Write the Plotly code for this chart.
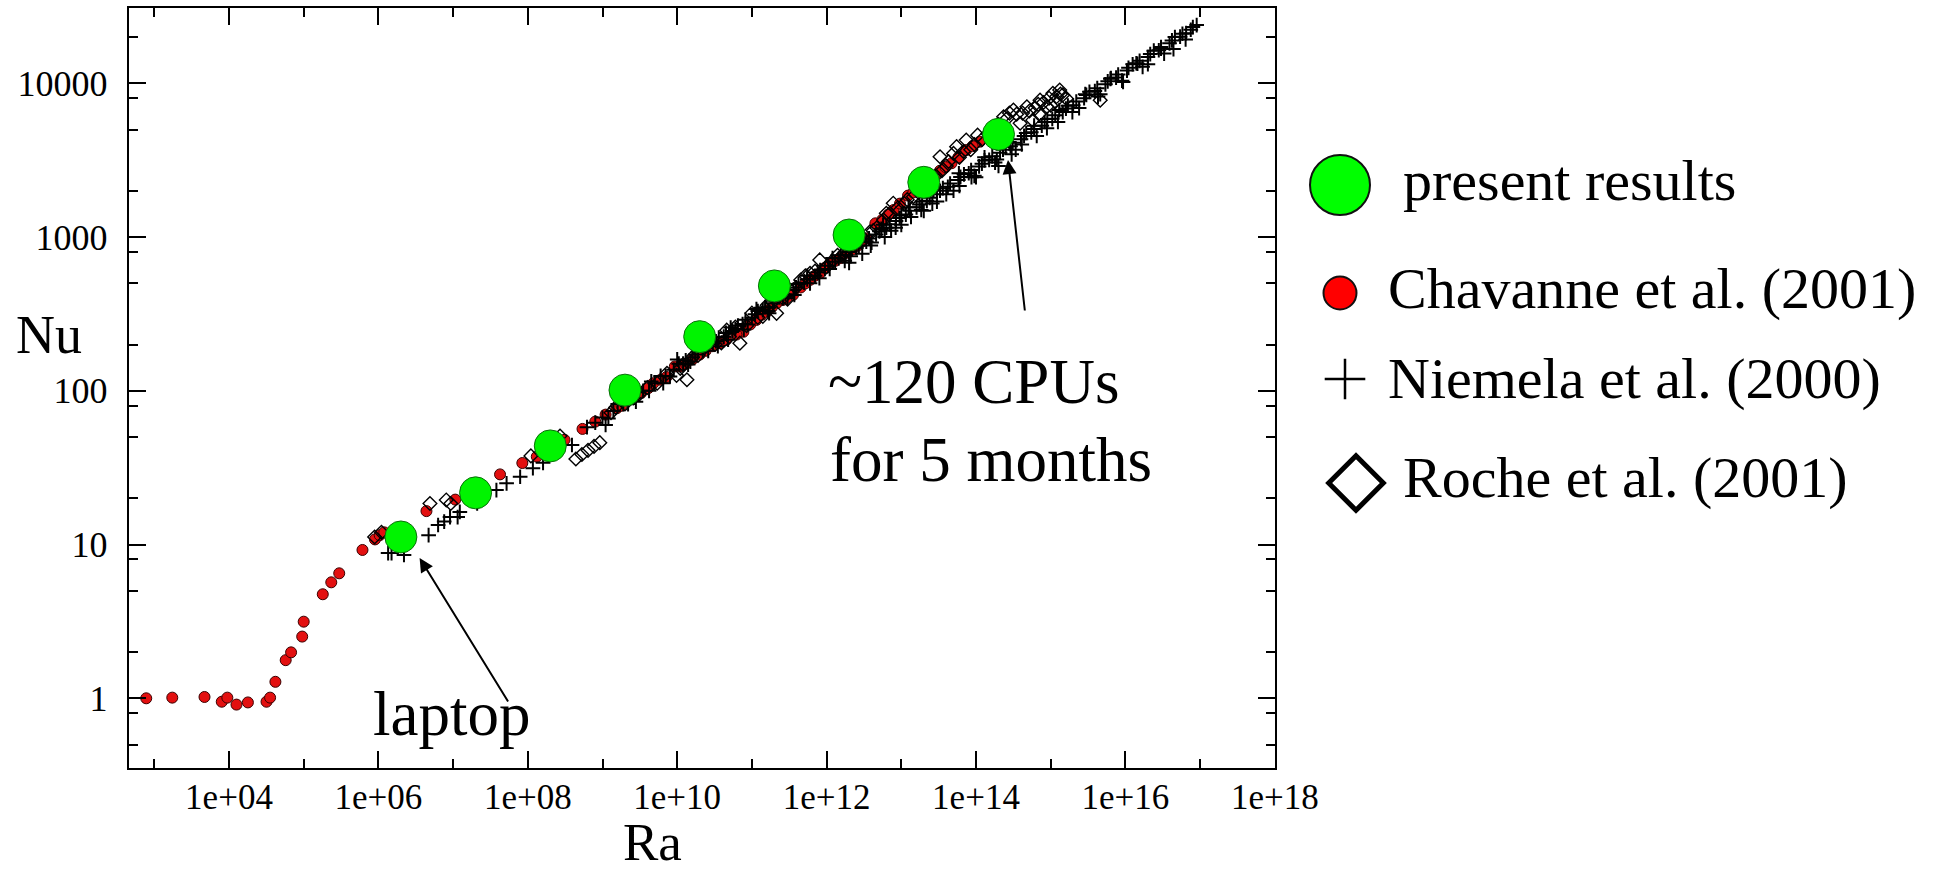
import plotly.graph_objects as go

W, H = 1945, 872
# plot-area edges in pixels (layout only)
PL, PR, PT, PB = 128.6, 1274.8, 8.3, 768.3

# ---------------- data ----------------
present_ra = [2e6, 2e7, 2e8, 2e9, 2e10, 2e11, 2e12, 2e13, 2e14]
present_nu = [11.2, 21.7, 43.8, 101, 225, 481, 1031, 2270, 4660]

chavanne_ra = [7.8e2, 1.74e3, 4.7e3, 8.0e3, 9.5e3, 1.26e4, 1.79e4, 3.18e4, 3.55e4, 4.18e4,
               5.74e4, 6.78e4, 9.55e4, 1.0e5, 1.80e5, 2.34e5, 2.99e5, 6.12e5, 0.9e6, 1.04e6,
               1.2e6, 4.4e6, 1.07e7, 4.25e7, 8.45e7, 1.32e8, 2.2e8, 3.1e8, 5.4e8, 8.0e8,
               1.1e9, 1.55e9, 2.5e9, 3.3e9, 4.8e9, 7.2e9, 9.3e9, 1.1e10, 1.6e10, 2.4e10,
               3.7e10, 7.7e10, 1.15e11, 1.6e11, 2.14e11, 2.6e11, 3.55e11, 6.0e11, 8.1e11, 1.12e12,
               1.5e12, 1.9e12, 2.6e12, 3.4e12, 4.5e12, 7.9e12, 1.23e13, 1.7e13, 2.3e13, 3.3e13,
               4.7e13, 7.4e13, 1.12e14,
               1.8e9, 2.9e9, 4.1e9, 6.0e9, 1.3e10, 2.0e10, 3.0e10, 4.5e10, 6.2e10, 9.5e10,
               1.35e11, 1.85e11, 2.9e11, 4.5e11, 5.2e11, 7.0e11, 9.5e11, 1.3e12, 2.2e12, 3.0e12,
               5.6e12, 6.7e12, 9.6e12, 1.45e13, 2.0e13, 2.8e13, 3.9e13, 5.8e13, 9.0e13]
chavanne_nu = [1.00, 1.01, 1.02, 0.95, 1.01, 0.91, 0.94, 0.95, 1.01, 1.28,
               1.77, 1.99, 2.52, 3.15, 4.75, 5.68, 6.5, 9.22, 10.8, 11.5,
               12.0, 16.5, 19.6, 28.6, 33.9, 37.3, 44, 48, 56.5, 63,
               70, 77, 90, 97, 112, 123, 144, 144, 160, 182,
               204, 242, 289, 330, 371, 390, 420, 526, 581, 675,
               728, 790, 880, 980, 1228, 1500, 1860, 2080, 2350, 2700,
               3020, 3680, 4170,
               80, 95, 104, 118, 150, 172, 195, 214, 232, 270,
               312, 350, 400, 470, 500, 560, 630, 700, 830, 940,
               1300, 1400, 1650, 1950, 2200, 2500, 2850, 3300, 3900]

niemela_ra = [1.35e6, 1.5e6, 2.2e6, 4.7e6, 6.3e6, 7.6e6, 9.1e6, 1.15e7, 1.23e7, 2.1e7,
              3.8e7, 5.2e7, 7.9e7, 1.17e8, 1.6e8, 2.4e8, 3.9e8, 6.2e8, 8.0e8, 1.0e9,
              1.2e9, 1.4e9, 1.6e9, 1.9e9, 2.2e9, 2.5e9, 3.0e9, 3.5e9, 4.2e9, 5.0e9,
              6.0e9, 7.0e9, 8.0e9, 9.0e9, 1.05e10, 1.2e10, 1.4e10, 1.6e10, 1.9e10, 2.2e10,
              2.6e10, 3.0e10, 3.6e10, 4.2e10, 4.8e10, 5.5e10, 6.5e10, 7.5e10, 8.8e10, 1.0e11,
              1.2e11, 1.4e11, 1.65e11, 1.9e11, 2.2e11, 2.6e11, 3.0e11, 3.6e11, 4.2e11, 5.0e11,
              6.0e11, 7.0e11, 8.2e11, 9.5e11, 1.1e12, 1.3e12, 1.55e12, 1.8e12, 2.1e12, 2.5e12,
              2.9e12, 3.4e12, 4.0e12, 4.6e12, 5.4e12, 6.3e12, 7.3e12, 8.5e12, 1.0e13, 1.15e13,
              1.35e13, 1.6e13, 1.9e13, 2.2e13, 2.6e13, 3.0e13, 3.6e13, 4.2e13, 5.0e13, 5.8e13,
              6.9e13, 8.0e13, 9.5e13, 1.1e14, 1.3e14, 1.5e14, 1.8e14, 2.1e14, 2.5e14, 2.9e14,
              3.4e14, 4.0e14, 4.7e14, 5.5e14, 6.5e14, 7.6e14, 9.0e14, 1.05e15, 1.25e15, 1.45e15,
              1.7e15, 2.0e15, 2.4e15, 2.8e15, 3.3e15, 3.9e15, 4.6e15, 5.4e15, 6.4e15, 7.5e15,
              9.0e15, 1.05e16, 1.25e16, 1.45e16, 1.7e16, 2.0e16, 2.4e16, 2.8e16, 3.3e16, 3.9e16,
              4.6e16, 5.4e16, 6.4e16, 7.5e16, 9.0e16,
              1.3e10, 1.75e10, 2.4e10, 3.3e10, 4.5e10, 6.0e10, 8.2e10, 1.1e11, 1.5e11, 2.0e11,
              2.8e11, 3.9e11, 5.5e11, 7.6e11, 1.05e12, 1.45e12, 2.0e12, 2.7e12, 3.7e12, 5.1e12,
              7.0e12, 9.5e12, 1.3e13, 1.75e13, 2.4e13, 3.3e13, 4.5e13, 6.2e13, 8.6e13, 1.2e14,
              1.65e14, 2.3e14, 3.1e14, 4.4e14, 6.0e14, 8.3e14, 1.15e15, 1.6e15, 2.2e15, 3.0e15,
              4.2e15, 5.8e15, 8.0e15, 1.1e16, 1.55e16, 2.15e16, 3.0e16, 4.2e16, 5.8e16, 8.0e16,
              2.0e12, 6.0e12, 2.0e13, 6.0e13, 2.0e14, 3.0e12, 1.0e13, 3.0e13, 1.0e14, 3.0e14,
              1.1e9, 1.8e9, 2.8e9, 4.5e9, 6.5e9, 1.0e10, 1.5e10, 2.3e10, 3.5e10, 5.2e10,
              7.8e10, 1.15e11, 1.7e11, 2.5e11, 3.7e11, 5.5e11, 8.0e11, 1.2e12, 1.75e12, 2.6e12,
              3.9e12, 5.7e12, 8.4e12, 1.25e13, 1.85e13, 2.7e13, 4.0e13, 5.9e13, 8.7e13, 1.3e14,
              1.9e14, 2.8e14, 4.1e14, 6.0e14, 8.9e14, 1.3e15, 1.95e15, 2.9e15, 4.3e15, 6.3e15,
              9.3e15, 1.4e16, 2.0e16, 3.0e16, 4.4e16, 6.5e16]
niemela_nu = [8.8, 8.8, 8.55, 11.5, 13.4, 14.1, 15.1, 15.1, 16.3, 18.5,
              22.6, 25.0, 27.6, 31.4, 34, 40, 44.4, 58, 62, 67,
              66, 74, 82, 82, 82, 90, 98, 100, 100, 112,
              125, 125, 124, 137, 150, 150, 148, 165, 180, 182,
              182, 203, 222, 225, 215, 245, 265, 272, 270, 300,
              330, 335, 330, 370, 405, 410, 400, 455, 495, 505,
              500, 560, 610, 620, 620, 690, 760, 765, 750, 850,
              930, 935, 920, 1040, 1130, 1150, 1100, 1270, 1380, 1400,
              1350, 1560, 1700, 1720, 1650, 1900, 2080, 2120, 2000, 2350,
              2560, 2600, 2500, 2880, 3150, 3180, 3050, 3530, 3850, 3900,
              3700, 4330, 4750, 4800, 4550, 5300, 5850, 5870, 5600, 6500,
              7150, 7200, 6900, 8000, 8800, 8900, 8500, 9850, 10800, 10900,
              10400, 12100, 13300, 13400, 12800, 14800, 16300, 16400, 15600, 18200,
              20000, 20100, 19300, 22300, 23900,
              158, 172, 195, 210, 238, 252, 290, 315, 350, 385,
              425, 470, 530, 590, 650, 725, 800, 880, 980, 1090,
              1210, 1330, 1480, 1630, 1800, 2000, 2230, 2460, 2730, 3000,
              3350, 3700, 4100, 4550, 5050, 5600, 6200, 6850, 7600, 8400,
              9300, 10300, 11400, 12600, 14000, 15500, 17200, 19000, 21000, 23200,
              680, 1000, 1480, 2150, 2900, 780, 1200, 1700, 2450, 3450,
              60, 88, 85, 115, 112, 160, 155, 200, 195, 258,
              250, 340, 320, 440, 420, 560, 540, 730, 700, 950,
              880, 1200, 1150, 1560, 1500, 2030, 1900, 2600, 2450, 3300,
              3200, 4150, 4000, 5300, 5100, 6700, 6500, 8500, 8200, 10700,
              10200, 13500, 13300, 16800, 16700, 21200]

roche_ra = [8.9e5, 1.1e6, 4.9e6, 8.1e6, 9.3e6, 1.1e8, 2.7e8, 4.4e8, 5.3e8, 6.4e8,
            7.7e8, 9.2e8, 1.3e9, 2.0e9, 3.1e9, 4.0e9, 5.4e9, 7.3e9, 9.8e9, 1.35e10,
            1.6e10, 2.3e10, 4.6e10, 5.0e10, 6.9e10, 1.6e11, 2.14e11, 2.6e11, 4.5e11, 8.1e11,
            1.0e12, 2.0e12, 3.0e12, 4.7e12, 5.8e12, 6.3e12, 7.8e12, 1.45e13, 2.5e13, 3.3e13,
            3.5e13, 5.5e13, 6.0e13, 7.4e13, 8.5e13, 1.7e14, 2.0e14, 2.34e14, 2.6e14, 2.8e14,
            3.17e14, 3.9e14, 4.2e14, 4.8e14, 5.75e14, 6.2e14, 7.2e14, 8.0e14, 8.9e14, 1.07e15,
            1.2e15, 1.32e15, 1.45e15, 1.62e15, 4.6e15,
            1.5e9, 2.6e9, 1.2e10, 3.2e10, 8.5e10, 1.2e11, 3.3e11, 6.0e11, 1.4e12, 2.4e12,
            3.8e12, 9.0e12, 1.2e13, 1.9e13, 4.3e13, 1.2e14, 1.45e14,
            1.1e10, 1.9e10, 2.8e10, 3.9e10, 6.0e10, 1.0e11, 1.4e11, 1.9e11, 3.0e11, 3.9e11,
            5.2e11, 7.0e11, 1.2e12, 1.7e12, 2.7e12, 4.2e12, 6.8e12, 1.1e13, 1.7e13, 2.2e13,
            2.9e13, 4.0e13, 5.0e13, 6.8e13, 9.5e13, 1.05e14, 3.5e14, 5.2e14, 6.8e14, 9.5e14,
            1.15e15, 1.35e15, 7.0e14, 1.0e15]
roche_nu = [11.2, 12.0, 18.5, 19.5, 18.5, 37.7, 50.8, 36, 38.5, 41,
            43.5, 46, 72, 82, 95, 105, 112, 130, 126, 118,
            165, 190, 248, 225, 204, 360, 319, 400, 526, 710,
            640, 830, 1000, 1150, 1290, 1427, 1660, 1830, 2300, 3330,
            2700, 3870, 3300, 4270, 3700, 5220, 5400, 6050, 5900, 6400,
            6700, 5500, 6400, 7040, 5760, 6900, 7770, 7500, 7040, 8600,
            8200, 9040, 8400, 7950, 7770,
            78, 90, 148, 200, 265, 300, 450, 580, 760, 920,
            1080, 1550, 1750, 2100, 3100, 4300, 4700,
            140, 170, 210, 205, 260, 320, 305, 380, 395, 470,
            560, 600, 700, 780, 960, 1100, 1400, 1650, 1950, 2250,
            2500, 2900, 3500, 3600, 4000, 4600, 6300, 6600, 7300, 8000,
            7600, 8500, 6300, 7200]

x_tick_vals = [1e4, 1e6, 1e8, 1e10, 1e12, 1e14, 1e16, 1e18]
x_tick_text = ["1e+04", "1e+06", "1e+08", "1e+10", "1e+12", "1e+14", "1e+16", "1e+18"]
x_minor_vals = [1e3, 1e5, 1e7, 1e9, 1e11, 1e13, 1e15, 1e17]
y_tick_vals = [1, 10, 100, 1000, 10000]
y_tick_text = ["1", "10", "100", "1000", "10000"]
y_minor_vals = [0.5, 0.8, 2, 5, 8, 20, 50, 80, 200, 500, 800, 2000, 5000, 8000, 20000]

legend_labels = ["present results", "Chavanne et al. (2001)",
                 "Niemela et al. (2000)", "Roche et al. (2001)"]

SERIF = "Liberation Serif, Times New Roman, serif"
GREEN = "#00f400"
GREEN_EDGE = "#0b6e0b"
RED = "#e31010"

fig = go.Figure()

# data traces (main axes): red dots under open diamonds, crosses, then green circles
fig.add_trace(go.Scatter(x=chavanne_ra, y=chavanne_nu, mode="markers", showlegend=False,
                         marker=dict(symbol="circle", size=11, color=RED,
                                     line=dict(color="#3a0000", width=1))))
fig.add_trace(go.Scatter(x=roche_ra, y=roche_nu, mode="markers", showlegend=False,
                         marker=dict(symbol="diamond-open", size=10.5, color="black",
                                     line=dict(color="black", width=1.4))))
fig.add_trace(go.Scatter(x=niemela_ra, y=niemela_nu, mode="markers", showlegend=False,
                         marker=dict(symbol="cross-thin", size=10.5,
                                     line=dict(color="black", width=2))))
fig.add_trace(go.Scatter(x=present_ra, y=present_nu, mode="markers", showlegend=False,
                         marker=dict(symbol="circle", size=32, color=GREEN,
                                     line=dict(color=GREEN_EDGE, width=1))))

# custom legend markers on a pixel overlay axis
leg_x = [1340, 1340, 1345, 1356]
leg_y = [185, 293, 379, 483]
fig.add_trace(go.Scatter(x=[leg_x[0]], y=[leg_y[0]], xaxis="x2", yaxis="y2", mode="markers",
                         showlegend=False, cliponaxis=False,
                         marker=dict(symbol="circle", size=60, color="#00ff00",
                                     line=dict(color="#111111", width=2))))
fig.add_trace(go.Scatter(x=[leg_x[1]], y=[leg_y[1]], xaxis="x2", yaxis="y2", mode="markers",
                         showlegend=False, cliponaxis=False,
                         marker=dict(symbol="circle", size=33, color="#ff0000",
                                     line=dict(color="#111111", width=2))))
fig.add_trace(go.Scatter(x=[leg_x[2]], y=[leg_y[2]], xaxis="x2", yaxis="y2", mode="markers",
                         showlegend=False, cliponaxis=False,
                         marker=dict(symbol="cross-thin", size=29,
                                     line=dict(color="black", width=2.5))))
fig.add_trace(go.Scatter(x=[leg_x[3]], y=[leg_y[3]], xaxis="x2", yaxis="y2", mode="markers",
                         showlegend=False, cliponaxis=False,
                         marker=dict(symbol="diamond-open", size=42, color="black",
                                     line=dict(color="black", width=5))))

axis_common = dict(showline=True, linecolor="black", linewidth=2, mirror="allticks",
                   ticks="inside", ticklen=17, tickwidth=1.5, tickcolor="black",
                   showgrid=False, zeroline=False, automargin=False)

fig.update_layout(
    template="none",
    width=W, height=H, autosize=False,
    margin=dict(l=0, r=0, t=0, b=0, pad=0, autoexpand=False),
    paper_bgcolor="white", plot_bgcolor="rgba(0,0,0,0)",
    showlegend=False,
    xaxis=dict(type="log", range=[2.656, 18.0], domain=[PL / W, PR / W], anchor="y",
               tickmode="array", tickvals=x_tick_vals, ticktext=x_tick_text,
               tickfont=dict(family=SERIF, size=35, color="black"),
               ticklabelstandoff=-3,
               minor=dict(tickmode="array", tickvals=x_minor_vals, ticks="inside",
                          ticklen=9, tickwidth=1.5, tickcolor="black", showgrid=False),
               **axis_common),
    yaxis=dict(type="log", range=[-0.4553, 4.4878],
               domain=[(H - PB) / H, (H - PT) / H], anchor="x",
               tickmode="array", tickvals=y_tick_vals, ticktext=y_tick_text,
               tickfont=dict(family=SERIF, size=36, color="black"),
               ticklabelstandoff=12,
               minor=dict(tickmode="array", tickvals=y_minor_vals, ticks="inside",
                          ticklen=9, tickwidth=1.5, tickcolor="black", showgrid=False),
               **axis_common),
    xaxis2=dict(domain=[0, 1], range=[0, W], visible=False, anchor="y2", fixedrange=True,
                automargin=False),
    yaxis2=dict(domain=[0, 1], range=[H, 0], visible=False, anchor="x2", fixedrange=True,
                automargin=False),
)


def px(x):
    return x / W


def py(y):
    return 1 - y / H


ann = []
# axis titles
ann.append(dict(text="Nu", x=px(49), y=py(335), xref="paper", yref="paper",
                showarrow=False, xanchor="center", yanchor="middle", borderpad=0,
                font=dict(family=SERIF, size=54, color="black")))
ann.append(dict(text="Ra", x=px(652), y=py(842), xref="paper", yref="paper",
                showarrow=False, xanchor="center", yanchor="middle", borderpad=0,
                font=dict(family=SERIF, size=53, color="black")))
# call-outs
ann.append(dict(text="~120 CPUs", x=px(826), y=py(381.7), xref="paper", yref="paper",
                showarrow=False, xanchor="left", yanchor="middle",
                font=dict(family=SERIF, size=63, color="black")))
ann.append(dict(text="for 5 months", x=px(828), y=py(460), xref="paper", yref="paper",
                showarrow=False, xanchor="left", yanchor="middle",
                font=dict(family=SERIF, size=63, color="black")))
ann.append(dict(text="laptop", x=px(371), y=py(714), xref="paper", yref="paper",
                showarrow=False, xanchor="left", yanchor="middle",
                font=dict(family=SERIF, size=63, color="black")))
# arrows
ann.append(dict(text="", x=px(419.6), y=py(558), xref="paper", yref="paper",
                showarrow=True, ax=89.4, ay=145, arrowhead=2, arrowsize=1.4,
                arrowwidth=2, arrowcolor="black", standoff=0))
ann.append(dict(text="", x=px(1008), y=py(160), xref="paper", yref="paper",
                showarrow=True, ax=17, ay=152, arrowhead=2, arrowsize=1.4,
                arrowwidth=2, arrowcolor="black", standoff=0))
# legend labels
leg_tx = [1401, 1386, 1386, 1401]
leg_ty = [180.4, 288.7, 378.7, 477]
for lab, tx, ty in zip(legend_labels, leg_tx, leg_ty):
    ann.append(dict(text=lab, x=px(tx), y=py(ty), xref="paper", yref="paper",
                    showarrow=False, xanchor="left", yanchor="middle",
                    font=dict(family=SERIF, size=58, color="black")))

fig.update_layout(annotations=ann)
fig.write_html("out.html")
